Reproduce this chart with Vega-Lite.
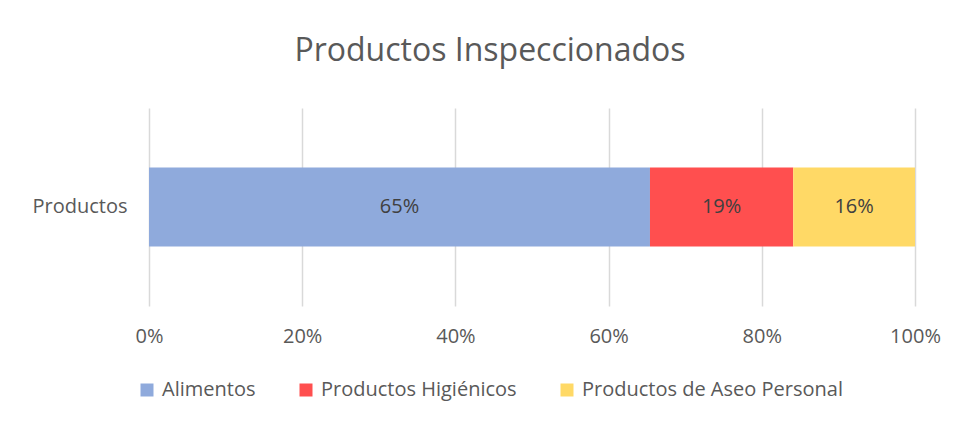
{
  "$schema": "https://vega.github.io/schema/vega-lite/v6.json",
  "width": 766,
  "height": 198,
  "autosize": {"type": "none"},
  "padding": {"left": 149, "top": 108, "right": 41, "bottom": 116},
  "background": "white",
  "title": {
    "text": "Productos Inspeccionados",
    "font": "Open Sans",
    "fontSize": 32,
    "fontWeight": "normal",
    "color": "#595959",
    "anchor": "middle",
    "baseline": "alphabetic",
    "offset": 15,
    "dx": -42
  },
  "data": {
    "values": [
      {"cat": "Productos", "serie": "Alimentos", "orden": 1, "valor": 0.654},
      {"cat": "Productos", "serie": "Productos Higiénicos", "orden": 2, "valor": 0.187},
      {"cat": "Productos", "serie": "Productos de Aseo Personal", "orden": 3, "valor": 0.159}
    ]
  },
  "encoding": {
    "y": {
      "field": "cat",
      "type": "nominal",
      "title": null,
      "scale": {"paddingInner": 0.43, "paddingOuter": 0.43},
      "axis": {
        "domain": false,
        "ticks": false,
        "labelPadding": 22,
        "labelFont": "Open Sans",
        "labelFontSize": 20,
        "labelColor": "#595959"
      }
    }
  },
  "layer": [
    {
      "mark": {"type": "bar"},
      "encoding": {
        "x": {
          "field": "valor",
          "type": "quantitative",
          "stack": "zero",
          "title": null,
          "scale": {"domain": [0, 1], "nice": false},
          "axis": {
            "values": [0, 0.2, 0.4, 0.6, 0.8, 1],
            "format": ".0%",
            "domain": false,
            "ticks": false,
            "grid": true,
            "gridColor": "#d9d9d9",
            "gridWidth": 1.5,
            "labelPadding": 20,
            "labelFont": "Open Sans",
            "labelFontSize": 20,
            "labelColor": "#595959",
            "labelFlush": false
          }
        },
        "order": {"field": "orden", "type": "quantitative"},
        "color": {
          "field": "serie",
          "type": "nominal",
          "sort": ["Alimentos", "Productos Higiénicos", "Productos de Aseo Personal"],
          "scale": {
            "domain": ["Alimentos", "Productos Higiénicos", "Productos de Aseo Personal"],
            "range": ["#8FAADC", "#FF4F4F", "#FFD966"]
          },
          "legend": {
            "title": null,
            "orient": "none",
            "direction": "horizontal",
            "legendX": -12,
            "legendY": 272,
            "symbolType": "square",
            "symbolSize": 169,
            "symbolStrokeWidth": 0,
            "labelOffset": 5,
            "columnPadding": 40,
            "labelFont": "Open Sans",
            "labelFontSize": 20,
            "labelColor": "#595959",
            "labelLimit": 400
          }
        }
      }
    },
    {
      "transform": [
        {"stack": "valor", "groupby": ["cat"], "sort": [{"field": "orden", "order": "ascending"}], "as": ["v0", "v1"]},
        {"fold": ["v0", "v1"], "as": ["extremo", "pos"]},
        {"aggregate": [{"op": "mean", "field": "pos", "as": "centro"}, {"op": "max", "field": "valor", "as": "etiqueta"}], "groupby": ["cat", "serie"]}
      ],
      "mark": {"type": "text", "font": "Open Sans", "fontSize": 20, "color": "#404040", "baseline": "middle", "align": "center"},
      "encoding": {
        "x": {"field": "centro", "type": "quantitative", "stack": null},
        "text": {"field": "etiqueta", "type": "quantitative", "format": ".0%"}
      }
    }
  ],
  "config": {"view": {"stroke": null}}
}
